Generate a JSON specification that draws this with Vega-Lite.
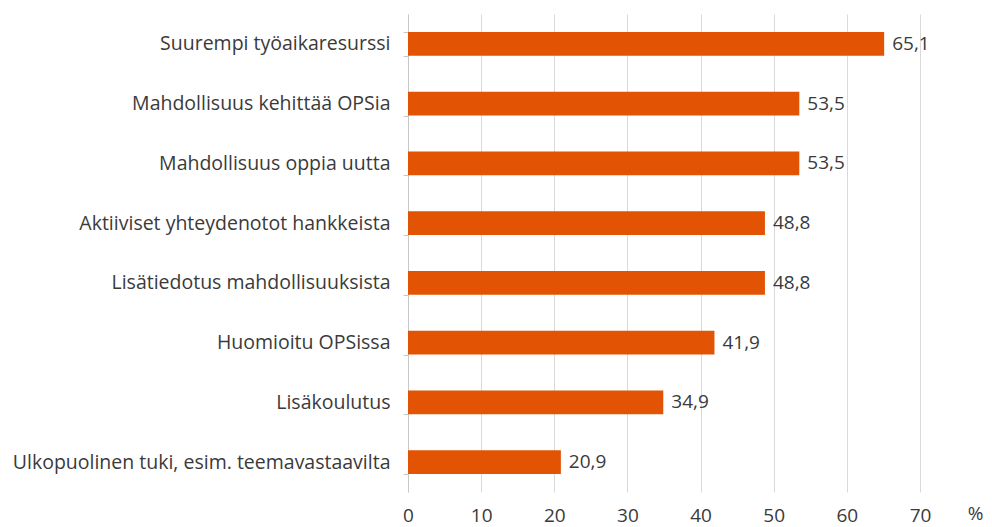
{
  "$schema": "https://vega.github.io/schema/vega-lite/v6.json",
  "autosize": "none",
  "width": 512,
  "height": 478,
  "padding": {"left": 408, "top": 14, "right": 72, "bottom": 35},
  "background": "white",
  "config": {
    "view": {"stroke": null},
    "font": "Open Sans",
    "locale": {"number": {"decimal": ",", "thousands": " ", "grouping": [3], "currency": ["", " €"]}}
  },
  "data": {
    "values": [
      {"kategoria": "Suurempi työaikaresurssi", "arvo": 65.1},
      {"kategoria": "Mahdollisuus kehittää OPSia", "arvo": 53.5},
      {"kategoria": "Mahdollisuus oppia uutta", "arvo": 53.5},
      {"kategoria": "Aktiiviset yhteydenotot hankkeista", "arvo": 48.8},
      {"kategoria": "Lisätiedotus mahdollisuuksista", "arvo": 48.8},
      {"kategoria": "Huomioitu OPSissa", "arvo": 41.9},
      {"kategoria": "Lisäkoulutus", "arvo": 34.9},
      {"kategoria": "Ulkopuolinen tuki, esim. teemavastaavilta", "arvo": 20.9}
    ]
  },
  "encoding": {
    "y": {
      "field": "kategoria",
      "type": "nominal",
      "sort": null,
      "scale": {"paddingInner": 0.6, "paddingOuter": 0.3},
      "axis": {
        "title": null,
        "tickBand": "extent",
        "tickSize": 5,
        "tickColor": "#c8c8c8",
        "domainColor": "#c8c8c8",
        "labelFontSize": 19.5,
        "labelColor": "#3a3a3a",
        "labelPadding": 13,
        "labelLimit": 420
      }
    },
    "x": {
      "field": "arvo",
      "type": "quantitative",
      "scale": {"domain": [0, 70], "nice": false},
      "axis": {
        "values": [0, 10, 20, 30, 40, 50, 60, 70],
        "title": "%",
        "titleFontSize": 19,
        "titleFontWeight": "normal",
        "titleColor": "#3a3a3a",
        "titleAnchor": "end",
        "titleX": 575,
        "titleY": 31,
        "titleBaseline": "bottom",
        "domain": false,
        "ticks": false,
        "grid": true,
        "gridColor": "#d9d9d9",
        "labelFlush": false,
        "labelFontSize": 19,
        "labelColor": "#3a3a3a",
        "labelPadding": 14,
        "format": "d"
      }
    }
  },
  "layer": [
    {"mark": {"type": "bar", "color": "#E25303"}},
    {
      "mark": {"type": "text", "align": "left", "dx": 8, "fontSize": 19, "color": "#3a3a3a"},
      "encoding": {"text": {"field": "arvo", "type": "quantitative", "format": ".1f"}}
    }
  ]
}
